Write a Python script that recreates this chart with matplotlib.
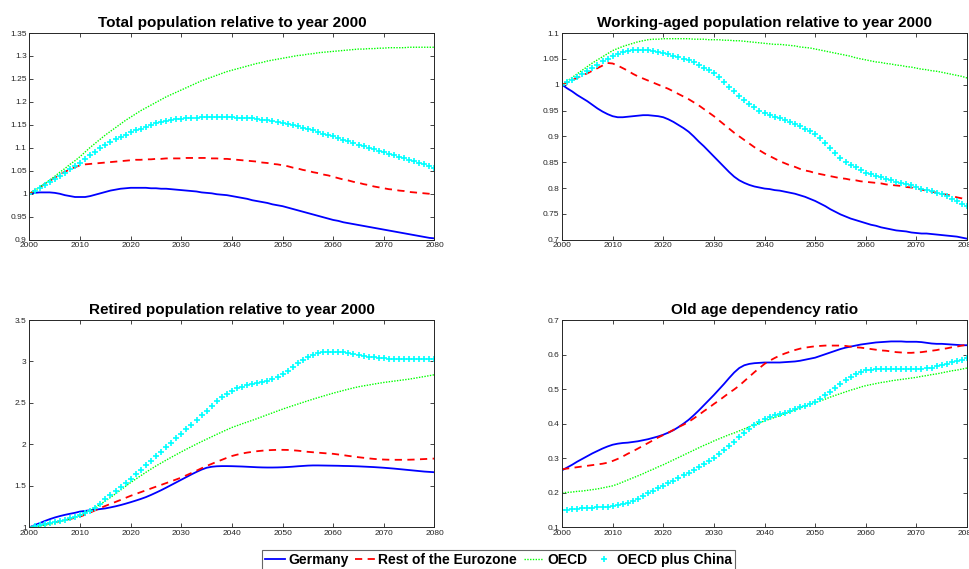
import numpy as np
import matplotlib
matplotlib.use("Agg")
import matplotlib.pyplot as plt

plt.rcParams["font.family"] = ["Liberation Sans", "DejaVu Sans"]

years = np.arange(2000, 2081)

# -----------------------------
# Total population relative to 2000
# -----------------------------
tot_germany = [
    1.000, 1.002, 1.003, 1.003, 1.003, 1.002, 1.000, 0.997, 0.995, 0.993,
    0.993, 0.993, 0.995, 0.998, 1.001, 1.004, 1.007, 1.009, 1.011, 1.012,
    1.013, 1.013, 1.013, 1.013, 1.012, 1.012, 1.011, 1.011, 1.010, 1.009,
    1.008, 1.007, 1.006, 1.005, 1.003, 1.002, 1.001, 0.999, 0.998, 0.997,
    0.995, 0.993, 0.991, 0.989, 0.986, 0.984, 0.982, 0.980, 0.977, 0.975,
    0.973, 0.970, 0.967, 0.964, 0.961, 0.958, 0.955, 0.952, 0.949, 0.946,
    0.943, 0.941, 0.938, 0.936, 0.934, 0.932, 0.930, 0.928, 0.926, 0.924,
    0.922, 0.920, 0.918, 0.916, 0.914, 0.912, 0.910, 0.908, 0.906, 0.904,
    0.903]
tot_rest_ez = [
    1.000, 1.007, 1.014, 1.021, 1.028, 1.035, 1.042, 1.048, 1.053, 1.058,
    1.062, 1.064, 1.065, 1.066, 1.067, 1.068, 1.069, 1.070, 1.071, 1.072,
    1.073, 1.074, 1.074, 1.075, 1.075, 1.076, 1.076, 1.077, 1.077, 1.077,
    1.077, 1.078, 1.078, 1.078, 1.078, 1.078, 1.077, 1.077, 1.076, 1.076,
    1.075, 1.074, 1.073, 1.072, 1.071, 1.070, 1.068, 1.067, 1.065, 1.064,
    1.062, 1.060, 1.057, 1.055, 1.052, 1.050, 1.047, 1.045, 1.042, 1.040,
    1.037, 1.034, 1.031, 1.029, 1.026, 1.024, 1.021, 1.019, 1.016, 1.014,
    1.012, 1.010, 1.009, 1.007, 1.006, 1.004, 1.003, 1.002, 1.001, 1.000,
    0.999]
tot_oecd = [
    1.000, 1.007, 1.014, 1.022, 1.030, 1.038, 1.047, 1.055, 1.064, 1.072,
    1.081, 1.091, 1.101, 1.110, 1.119, 1.128, 1.136, 1.144, 1.152, 1.160,
    1.167, 1.174, 1.181, 1.187, 1.193, 1.199, 1.205, 1.211, 1.216, 1.221,
    1.226, 1.231, 1.236, 1.241, 1.246, 1.250, 1.254, 1.258, 1.262, 1.266,
    1.269, 1.272, 1.275, 1.278, 1.281, 1.284, 1.286, 1.289, 1.291, 1.293,
    1.295, 1.297, 1.299, 1.301, 1.302, 1.304, 1.305, 1.307, 1.308, 1.309,
    1.310, 1.311, 1.312, 1.313, 1.314, 1.315, 1.315, 1.316, 1.316, 1.317,
    1.317, 1.318, 1.318, 1.318, 1.318, 1.319, 1.319, 1.319, 1.319, 1.319,
    1.319]
tot_oecd_china = [
    1.000, 1.006, 1.012, 1.019, 1.025, 1.032, 1.039, 1.046, 1.053, 1.061,
    1.068, 1.076, 1.084, 1.092, 1.100, 1.107, 1.113, 1.119, 1.124, 1.129,
    1.134, 1.138, 1.142, 1.146, 1.150, 1.153, 1.156, 1.158, 1.160, 1.162,
    1.163, 1.164, 1.165, 1.166, 1.167, 1.167, 1.168, 1.168, 1.168, 1.167,
    1.167, 1.166, 1.166, 1.165, 1.164, 1.163, 1.161, 1.160, 1.158, 1.157,
    1.155, 1.152, 1.150, 1.147, 1.144, 1.141, 1.138, 1.135, 1.131, 1.128,
    1.125, 1.121, 1.118, 1.114, 1.111, 1.107, 1.104, 1.100, 1.097, 1.093,
    1.090, 1.087, 1.084, 1.080, 1.077, 1.074, 1.071, 1.067, 1.064, 1.060,
    1.057]

# -----------------------------
# Working-aged population relative to 2000
# -----------------------------
work_germany = [
    1.000, 0.993, 0.987, 0.980, 0.974, 0.968, 0.961, 0.954, 0.948, 0.943,
    0.939, 0.937, 0.937, 0.938, 0.939, 0.940, 0.941, 0.941, 0.940, 0.939,
    0.937, 0.933, 0.928, 0.922, 0.916, 0.909, 0.900, 0.890, 0.881, 0.871,
    0.861, 0.851, 0.841, 0.831, 0.822, 0.815, 0.810, 0.806, 0.803, 0.801,
    0.799, 0.798, 0.796, 0.795, 0.793, 0.791, 0.789, 0.786, 0.783, 0.779,
    0.775, 0.770, 0.765, 0.759, 0.754, 0.749, 0.745, 0.741, 0.738, 0.735,
    0.732, 0.729, 0.727, 0.724, 0.722, 0.720, 0.718, 0.717, 0.716, 0.714,
    0.713, 0.712, 0.712, 0.711, 0.710, 0.709, 0.708, 0.707, 0.706, 0.704,
    0.702]
work_rest_ez = [
    1.000, 1.004, 1.009, 1.013, 1.018, 1.022, 1.027, 1.032, 1.037, 1.042,
    1.041, 1.037, 1.032, 1.027, 1.021, 1.016, 1.012, 1.008, 1.004, 1.000,
    0.996, 0.992, 0.987, 0.982, 0.977, 0.972, 0.966, 0.960, 0.953, 0.946,
    0.939, 0.931, 0.923, 0.915, 0.907, 0.900, 0.893, 0.886, 0.879, 0.873,
    0.867, 0.862, 0.857, 0.852, 0.848, 0.844, 0.841, 0.837, 0.834, 0.832,
    0.829, 0.827, 0.825, 0.823, 0.821, 0.819, 0.818, 0.816, 0.815, 0.813,
    0.812, 0.811, 0.810, 0.809, 0.807, 0.806, 0.805, 0.804, 0.802, 0.801,
    0.799, 0.797, 0.795, 0.793, 0.791, 0.789, 0.787, 0.785, 0.782, 0.780,
    0.777]
work_oecd = [
    1.000, 1.007, 1.014, 1.021, 1.028, 1.035, 1.042, 1.048, 1.054, 1.060,
    1.066, 1.070, 1.074, 1.077, 1.080, 1.083, 1.085, 1.087, 1.088, 1.088,
    1.089, 1.089, 1.089, 1.089, 1.089, 1.089, 1.088, 1.088, 1.088, 1.087,
    1.087, 1.087, 1.086, 1.086, 1.085, 1.085, 1.084, 1.083, 1.082, 1.081,
    1.080, 1.079, 1.078, 1.078, 1.077, 1.076, 1.075, 1.073, 1.072, 1.071,
    1.069, 1.067, 1.065, 1.063, 1.061, 1.059, 1.057, 1.055, 1.052, 1.050,
    1.048, 1.046, 1.044, 1.043, 1.041, 1.040, 1.038, 1.037, 1.035, 1.034,
    1.032, 1.030, 1.029, 1.027, 1.026, 1.024, 1.022, 1.020, 1.018, 1.016,
    1.013]
work_oecd_china = [
    1.000, 1.005, 1.010, 1.015, 1.020, 1.026, 1.032, 1.039, 1.045, 1.050,
    1.055, 1.059, 1.063, 1.066, 1.067, 1.068, 1.068, 1.068, 1.066, 1.064,
    1.061, 1.059, 1.056, 1.053, 1.050, 1.047, 1.043, 1.038, 1.033, 1.028,
    1.023, 1.014, 1.005, 0.996, 0.987, 0.978, 0.970, 0.963, 0.956, 0.950,
    0.945, 0.941, 0.938, 0.935, 0.932, 0.928, 0.924, 0.920, 0.915, 0.910,
    0.905, 0.897, 0.888, 0.878, 0.867, 0.858, 0.851, 0.845, 0.840, 0.835,
    0.830, 0.827, 0.824, 0.821, 0.818, 0.815, 0.812, 0.810, 0.807, 0.805,
    0.802, 0.799, 0.797, 0.794, 0.791, 0.788, 0.784, 0.779, 0.774, 0.770,
    0.765]

# -----------------------------
# Retired population relative to 2000
# -----------------------------
ret_germany = [
    1.000, 1.025, 1.050, 1.075, 1.098, 1.118, 1.135, 1.150, 1.163, 1.175,
    1.190, 1.198, 1.205, 1.212, 1.220, 1.228, 1.240, 1.253, 1.268, 1.285,
    1.303, 1.322, 1.342, 1.364, 1.390, 1.418, 1.447, 1.478, 1.510, 1.542,
    1.574, 1.606, 1.638, 1.668, 1.696, 1.718, 1.730, 1.736, 1.738, 1.738,
    1.737, 1.735, 1.733, 1.730, 1.727, 1.724, 1.722, 1.721, 1.721, 1.722,
    1.724, 1.727, 1.731, 1.736, 1.740, 1.744, 1.746, 1.746, 1.745, 1.744,
    1.743, 1.742, 1.740, 1.739, 1.737, 1.735, 1.732, 1.729, 1.726, 1.722,
    1.718, 1.713, 1.708, 1.702, 1.696, 1.690, 1.684, 1.678, 1.672, 1.668,
    1.664]
ret_rest_ez = [
    1.000, 1.012, 1.024, 1.036, 1.048, 1.060, 1.073, 1.087, 1.100, 1.114,
    1.129, 1.152, 1.178, 1.205, 1.232, 1.258, 1.282, 1.306, 1.330, 1.355,
    1.380, 1.402, 1.424, 1.446, 1.468, 1.490, 1.511, 1.533, 1.555, 1.577,
    1.600, 1.627, 1.655, 1.683, 1.712, 1.740, 1.765, 1.790, 1.814, 1.838,
    1.860, 1.876, 1.890, 1.901, 1.910, 1.918, 1.924, 1.929, 1.932, 1.934,
    1.934, 1.933, 1.929, 1.924, 1.917, 1.910, 1.905, 1.900, 1.895, 1.890,
    1.886, 1.878, 1.870, 1.861, 1.853, 1.845, 1.838, 1.831, 1.825, 1.820,
    1.817, 1.815, 1.814, 1.814, 1.814, 1.815, 1.817, 1.820, 1.823, 1.826,
    1.829]
ret_oecd = [
    1.000, 1.008, 1.016, 1.025, 1.036, 1.050, 1.066, 1.083, 1.102, 1.123,
    1.145, 1.173, 1.205, 1.240, 1.278, 1.318, 1.360, 1.404, 1.449, 1.495,
    1.540, 1.582, 1.623, 1.663, 1.702, 1.740, 1.775, 1.810, 1.844, 1.877,
    1.910, 1.942, 1.973, 2.004, 2.034, 2.063, 2.092, 2.121, 2.149, 2.177,
    2.204, 2.226, 2.248, 2.269, 2.290, 2.312, 2.335, 2.358, 2.380, 2.403,
    2.425, 2.446, 2.466, 2.486, 2.506, 2.526, 2.545, 2.564, 2.582, 2.600,
    2.618, 2.634, 2.650, 2.666, 2.681, 2.695, 2.706, 2.716, 2.727, 2.737,
    2.747, 2.755, 2.763, 2.771, 2.779, 2.787, 2.797, 2.808, 2.818, 2.829,
    2.840]
ret_oecd_china = [
    1.000, 1.012, 1.024, 1.036, 1.048, 1.062, 1.076, 1.091, 1.107, 1.124,
    1.145, 1.170, 1.200, 1.235, 1.285, 1.338, 1.390, 1.440, 1.490, 1.540,
    1.588, 1.640, 1.693, 1.748, 1.804, 1.860, 1.914, 1.967, 2.020, 2.072,
    2.125, 2.180, 2.235, 2.292, 2.350, 2.405, 2.465, 2.520, 2.570, 2.612,
    2.646, 2.675, 2.698, 2.714, 2.726, 2.737, 2.750, 2.766, 2.786, 2.815,
    2.850, 2.888, 2.930, 2.976, 3.020, 3.055, 3.082, 3.100, 3.110, 3.116,
    3.118, 3.117, 3.112, 3.104, 3.094, 3.082, 3.070, 3.058, 3.049, 3.042,
    3.037, 3.032, 3.028, 3.025, 3.024, 3.024, 3.024, 3.025, 3.026, 3.028,
    3.030]

# -----------------------------
# Old age dependency ratio
# -----------------------------
dep_germany = [
    0.265, 0.273, 0.281, 0.290, 0.298, 0.306, 0.314, 0.321, 0.328, 0.334,
    0.339, 0.342, 0.344, 0.345, 0.347, 0.349, 0.352, 0.355, 0.359, 0.363,
    0.368, 0.374, 0.381, 0.390, 0.400, 0.411, 0.424, 0.438, 0.453, 0.468,
    0.483, 0.499, 0.515, 0.532, 0.548, 0.561, 0.569, 0.573, 0.575, 0.576,
    0.577, 0.577, 0.577, 0.577, 0.578, 0.579, 0.580, 0.582, 0.585, 0.588,
    0.591, 0.596, 0.601, 0.606, 0.611, 0.616, 0.620, 0.623, 0.626, 0.629,
    0.631, 0.633, 0.635, 0.636, 0.637, 0.638, 0.638, 0.638, 0.637, 0.637,
    0.637, 0.636, 0.634, 0.632, 0.631, 0.631, 0.630, 0.629, 0.628, 0.627,
    0.627]
dep_rest_ez = [
    0.268, 0.270, 0.272, 0.274, 0.276, 0.278, 0.280, 0.282, 0.284, 0.287,
    0.292, 0.298, 0.305, 0.313, 0.320, 0.328, 0.336, 0.344, 0.352, 0.360,
    0.367, 0.374, 0.382, 0.390, 0.397, 0.405, 0.415, 0.425, 0.436, 0.446,
    0.457, 0.467, 0.478, 0.489, 0.499, 0.510, 0.523, 0.536, 0.549, 0.561,
    0.573, 0.582, 0.590, 0.597, 0.603, 0.608, 0.613, 0.617, 0.620, 0.622,
    0.624, 0.625, 0.626, 0.626, 0.626, 0.626, 0.625, 0.623, 0.621, 0.620,
    0.618, 0.616, 0.614, 0.612, 0.611, 0.609, 0.607, 0.606, 0.605, 0.605,
    0.606, 0.607, 0.609, 0.611, 0.613, 0.616, 0.618, 0.621, 0.623, 0.626,
    0.628]
dep_oecd = [
    0.200, 0.201, 0.202, 0.204, 0.205, 0.207, 0.209, 0.211, 0.214, 0.217,
    0.220, 0.225, 0.231, 0.237, 0.243, 0.249, 0.255, 0.262, 0.268, 0.275,
    0.281, 0.288, 0.295, 0.302, 0.309, 0.316, 0.323, 0.330, 0.337, 0.343,
    0.350, 0.356, 0.362, 0.368, 0.373, 0.379, 0.385, 0.391, 0.397, 0.402,
    0.408, 0.413, 0.418, 0.423, 0.429, 0.434, 0.439, 0.445, 0.450, 0.456,
    0.461, 0.466, 0.471, 0.477, 0.482, 0.487, 0.492, 0.497, 0.501, 0.506,
    0.510, 0.513, 0.516, 0.519, 0.521, 0.524, 0.526, 0.528, 0.530, 0.532,
    0.534, 0.537, 0.539, 0.542, 0.544, 0.547, 0.550, 0.553, 0.555, 0.558,
    0.561]
dep_oecd_china = [
    0.149, 0.150, 0.152, 0.153, 0.155, 0.156, 0.157, 0.158, 0.159, 0.160,
    0.162, 0.164, 0.167, 0.171, 0.177, 0.183, 0.190, 0.198, 0.206, 0.213,
    0.220, 0.227, 0.235, 0.243, 0.250, 0.258, 0.266, 0.275, 0.284, 0.293,
    0.302, 0.313, 0.324, 0.336, 0.348, 0.360, 0.373, 0.385, 0.396, 0.405,
    0.413, 0.419, 0.424, 0.428, 0.432, 0.437, 0.442, 0.447, 0.452, 0.457,
    0.463, 0.472, 0.482, 0.493, 0.504, 0.514, 0.525, 0.535, 0.543, 0.550,
    0.555, 0.556, 0.557, 0.557, 0.557, 0.558, 0.558, 0.558, 0.558, 0.558,
    0.558, 0.559, 0.560, 0.562, 0.566, 0.570, 0.574, 0.578, 0.582, 0.585,
    0.589]

labels = ["Germany", "Rest of the Eurozone", "OECD", "OECD plus China"]

panels = [
    ("Total population relative to year 2000",
     [tot_germany, tot_rest_ez, tot_oecd, tot_oecd_china], (0.9, 1.35), 0.05),
    ("Working-aged population relative to year 2000",
     [work_germany, work_rest_ez, work_oecd, work_oecd_china], (0.7, 1.1), 0.05),
    ("Retired population relative to year 2000",
     [ret_germany, ret_rest_ez, ret_oecd, ret_oecd_china], (1.0, 3.5), 0.5),
    ("Old age dependency ratio",
     [dep_germany, dep_rest_ez, dep_oecd, dep_oecd_china], (0.1, 0.7), 0.1),
]

rects = [
    [0.0304, 0.5787, 0.418, 0.3633],
    [0.5800, 0.5787, 0.418, 0.3633],
    [0.0304, 0.0733, 0.418, 0.3643],
    [0.5800, 0.0733, 0.418, 0.3643],
]

axis_gray = "#262626"

fig = plt.figure(figsize=(9.69, 5.69), dpi=100)

handles = None
for (title, series, ylim, step), rect in zip(panels, rects):
    ax = fig.add_axes(rect)
    de, ez, oe, oc = series
    h1, = ax.plot(years, de, color="#0000ff", lw=1.3, label=labels[0])
    h2, = ax.plot(years, ez, color="#ff0000", lw=1.3, ls=(0, (4, 3)), label=labels[1])
    h3, = ax.plot(years, oe, color="#00ff00", lw=1.0, ls=(0, (1, 1)), label=labels[2])
    h4, = ax.plot(years, oc, color="#00ffff", lw=0, marker="+", ms=4.5, mew=1.2,
                  label=labels[3])
    handles = [h1, h2, h3, h4]

    ax.set_xlim(2000, 2080)
    ax.set_ylim(*ylim)
    ax.set_xticks(np.arange(2000, 2081, 10))
    yt = np.round(np.arange(ylim[0], ylim[1] + step / 2, step), 2)
    ax.set_yticks(yt)
    ax.set_yticklabels([f"{v:g}" for v in yt])
    ax.tick_params(direction="in", length=3, width=0.6, labelsize=6,
                   colors=axis_gray, top=True, right=True, pad=2)
    for sp in ax.spines.values():
        sp.set_color(axis_gray)
        sp.set_linewidth(0.7)
    ax.set_title(title, fontsize=11, fontweight="bold", pad=4)

leg = fig.legend(handles, labels, loc="upper center", ncol=4,
                 bbox_to_anchor=(0.5145, 1 - 550 / 569), frameon=True,
                 fancybox=False, prop={"weight": "bold", "size": 10},
                 handlelength=1.4, handletextpad=0.25, columnspacing=0.5,
                 borderpad=0.2, borderaxespad=0)
leg.get_frame().set_edgecolor("#404040")
leg.get_frame().set_linewidth(0.8)

fig.savefig("out.png", dpi=100)
